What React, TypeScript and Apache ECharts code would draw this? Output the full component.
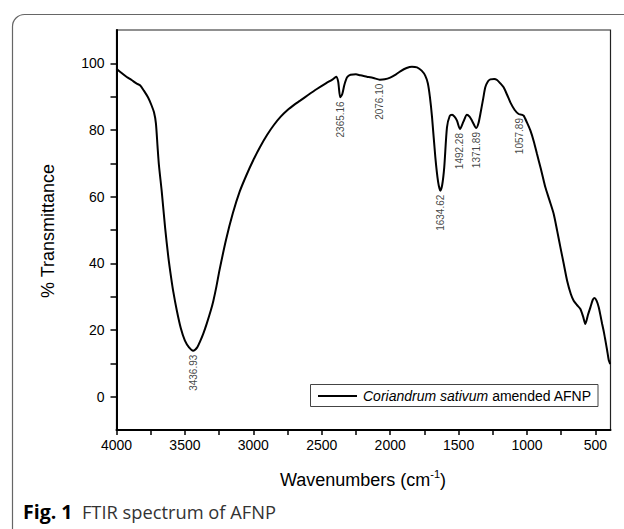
import React, { useEffect, useRef } from "react";
import * as echarts from "echarts";

// FTIR spectrum (wavenumber cm^-1, % transmittance)
const wavenumbers = [
  4000, 3990, 3960, 3925, 3890, 3852, 3828, 3800, 3770, 3745, 3726, 3712, 3700, 3690, 3670,
  3645, 3621, 3600, 3585, 3560, 3530, 3500, 3470, 3440, 3410, 3389, 3365, 3340, 3310, 3292,
  3270, 3248, 3200, 3150, 3100, 3050, 3000, 2950, 2900, 2850, 2800, 2750, 2700, 2658, 2600,
  2536, 2470, 2420, 2395, 2380, 2365, 2350, 2335, 2315, 2290, 2250, 2219, 2170, 2122, 2076,
  2040, 2000, 1960, 1926, 1880, 1841, 1804, 1770, 1744, 1725, 1710, 1694, 1670, 1650, 1634,
  1620, 1605, 1585, 1565, 1548, 1530, 1512, 1490, 1465, 1439, 1420, 1402, 1371, 1355, 1341,
  1320, 1305, 1285, 1268, 1240, 1219, 1195, 1171, 1145, 1122, 1090, 1061, 1040, 1025, 1000,
  975, 950, 927, 900, 878, 866, 835, 805, 780, 756, 730, 707, 680, 659, 635,
  610, 590, 574, 555, 537, 520, 508, 492, 476, 463, 451, 438, 427, 415, 403, 392,
];
const transmittance = [
  98.4, 98.0, 97.0, 95.9, 95.0, 93.9, 93.4, 91.8, 89.8, 87.5, 85.3, 82.0, 75.0, 69.5, 61.8,
  50.8, 41.8, 35.5, 31.5, 26.0, 20.5, 16.8, 14.8, 13.8, 14.8, 16.6, 19.0, 22.0, 26.0, 28.8,
  33.0, 37.8, 47.0, 55.0, 61.5, 66.5, 71.0, 75.0, 78.5, 81.5, 84.0, 86.0, 87.6, 88.8, 90.5,
  92.3, 94.0, 95.2, 96.0, 94.5, 89.8, 90.8, 93.5, 95.8, 96.6, 96.7, 96.4, 96.0, 95.6, 95.1,
  95.2, 95.7, 96.6, 97.6, 98.6, 99.0, 98.8, 97.8, 96.3, 94.0, 90.0, 83.8, 71.8, 64.5, 61.8,
  63.5, 68.8, 80.8, 84.2, 84.6, 84.0, 82.8, 80.3, 82.5, 84.6, 84.0, 82.8, 80.6, 82.0, 84.8,
  89.5, 92.8, 94.6, 95.2, 95.3, 95.0, 94.0, 92.8, 90.5, 88.3, 86.0, 84.8, 84.6, 84.3, 82.2,
  79.8, 76.5, 72.8, 68.5, 64.8, 62.8, 58.8, 54.8, 49.8, 44.8, 39.5, 34.8, 30.8, 28.8, 27.5,
  26.3, 24.0, 21.8, 24.5, 26.8, 29.0, 29.6, 28.8, 26.8, 24.3, 21.8, 19.3, 16.8, 14.0, 11.0, 9.8,
];

// Annotated peaks
const peakWaves = [3436.93, 2365.16, 2076.1, 1634.62, 1492.28, 1371.89, 1057.89];
const peakValues = [13.8, 89.8, 95.1, 61.8, 80.3, 80.6, 84.8];
const peakLabels = ["3436.93", "2365.16", "2076.10", "1634.62", "1492.28", "1371.89", "1057.89"];

// Axis ticks (labels on major values, ticks on major + minor values)
const xLabelValues = [4000, 3500, 3000, 2500, 2000, 1500, 1000, 500];
const xTickValues = [4000, 3750, 3500, 3250, 3000, 2750, 2500, 2250, 2000, 1750, 1500, 1250, 1000, 750, 500];
const yLabelValues = [0, 20, 40, 60, 80, 100];
const yTickValues = [0, 10, 20, 30, 40, 50, 60, 70, 80, 90, 100];

const seriesName = "Coriandrum sativum amended AFNP";
const FONT = "'Liberation Sans', Arial, sans-serif";

export default function App() {
  const ref = useRef<HTMLDivElement>(null);

  useEffect(() => {
    if (!ref.current) return;
    const chart = echarts.init(ref.current, undefined, { renderer: "svg" });

    const spectrum = wavenumbers.map((w, i) => [w, transmittance[i]]);
    const peaks = peakWaves.map((w, i) => ({ value: [w, peakValues[i]], label: { formatter: peakLabels[i] } }));
    const plain = (v: number) => String(v);

    chart.setOption({
      animation: false,
      backgroundColor: "#fff",
      grid: {
        left: 116.5,
        top: 30,
        right: 13.5,
        bottom: 99,
        show: true,
        borderColor: "#222",
        borderWidth: 1.2,
        backgroundColor: "transparent",
      },
      xAxis: {
        type: "value",
        inverse: true,
        min: 390,
        max: 4000,
        position: "bottom",
        splitLine: { show: false },
        axisLine: { show: true, onZero: false, lineStyle: { color: "#000", width: 2 } },
        axisTick: { show: true, customValues: xTickValues, length: 5, lineStyle: { color: "#000", width: 1.5 } },
        axisLabel: { show: true, customValues: xLabelValues, formatter: plain, fontSize: 14, color: "#000", margin: 8, fontFamily: FONT },
      },
      yAxis: {
        type: "value",
        min: -10,
        max: 110,
        position: "left",
        splitLine: { show: false },
        axisLine: { show: true, onZero: false, lineStyle: { color: "#000", width: 2 } },
        axisTick: { show: true, customValues: yTickValues, length: 6, lineStyle: { color: "#000", width: 1.5 } },
        axisLabel: { show: true, customValues: yLabelValues, formatter: plain, fontSize: 14, color: "#000", margin: 12, fontFamily: FONT },
      },
      series: [
        {
          name: seriesName,
          type: "line",
          data: spectrum,
          showSymbol: false,
          smooth: 0.25,
          lineStyle: { color: "#000", width: 2 },
          z: 3,
        },
        {
          type: "scatter",
          data: peaks,
          symbolSize: 0,
          silent: true,
          label: {
            show: true,
            position: "bottom",
            distance: 4,
            rotate: 90,
            align: "right",
            verticalAlign: "middle",
            fontSize: 10,
            color: "#111",
            fontFamily: FONT,
          },
          z: 4,
        },
      ],
      graphic: [
        {
          type: "rect",
          shape: { x: 12.5, y: 14.5, width: 700, height: 600, r: 12 },
          style: { fill: "none", stroke: "#666", lineWidth: 1.2 },
          silent: true,
          z: -1,
        },
        {
          type: "text",
          x: 48,
          y: 231,
          rotation: Math.PI / 2,
          style: {
            text: "% Transmittance",
            fontSize: 18,
            fontFamily: FONT,
            fill: "#000",
            align: "center",
            verticalAlign: "middle",
          },
        },
        {
          type: "text",
          x: 363,
          y: 480,
          style: {
            text: "{a|Wavenumbers (cm}{s|-1}{a|)}",
            align: "center",
            verticalAlign: "middle",
            fill: "#000",
            rich: {
              a: { fontSize: 18, fontFamily: FONT, fill: "#000", lineHeight: 24, verticalAlign: "middle" },
              s: { fontSize: 11, fontFamily: FONT, fill: "#000", lineHeight: 12, verticalAlign: "top" },
            },
          },
        },
        {
          type: "rect",
          shape: { x: 310.5, y: 384.5, width: 287.5, height: 22 },
          style: { fill: "#fff", stroke: "#444", lineWidth: 1 },
          z: 10,
        },
        {
          type: "line",
          shape: { x1: 318, y1: 396, x2: 357, y2: 396 },
          style: { stroke: "#000", lineWidth: 2 },
          z: 11,
        },
        {
          type: "text",
          x: 363,
          y: 396,
          style: {
            text: "{i|Coriandrum sativum}{n| amended AFNP}",
            verticalAlign: "middle",
            align: "left",
            rich: {
              i: { fontSize: 14, fontStyle: "italic", fontFamily: FONT, fill: "#000" },
              n: { fontSize: 14, fontFamily: FONT, fill: "#000" },
            },
          },
          z: 11,
        },
        {
          type: "text",
          x: 23,
          y: 511,
          style: {
            text: "{b|Fig. 1}{c|  FTIR spectrum of AFNP}",
            verticalAlign: "middle",
            align: "left",
            rich: {
              b: { fontSize: 19.5, fontWeight: "bold", fontFamily: "'Open Sans', sans-serif", fill: "#000" },
              c: { fontSize: 18.3, fontFamily: "'Open Sans', sans-serif", fill: "#333" },
            },
          },
        },
      ],
    });

    return () => chart.dispose();
  }, []);

  return (
    <div
      ref={ref}
      style={{ position: "fixed", left: 0, top: 0, width: 624, height: 529, background: "#fff" }}
    />
  );
}
